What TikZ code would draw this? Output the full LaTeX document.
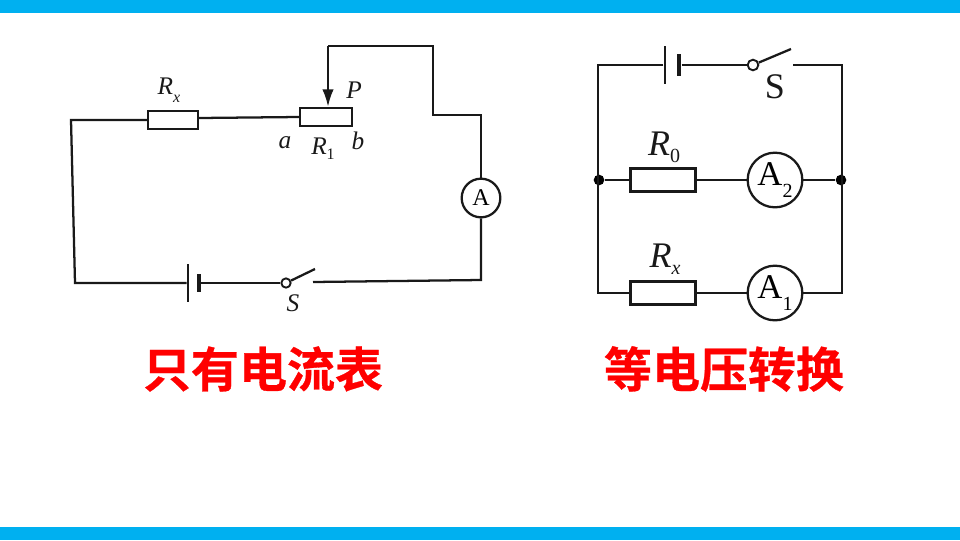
\documentclass[tikz,border=0pt]{standalone}
\usepackage{fontspec}
\usetikzlibrary{arrows.meta}
\setmainfont{Liberation Serif}
\newfontfamily\cjkbold[FakeBold=0.6]{Noto Sans CJK SC Bold}
\definecolor{barblue}{RGB}{0,176,240}
\definecolor{titlered}{RGB}{255,0,0}
\begin{document}
\begin{tikzpicture}[x=0.75pt,y=-0.75pt,line join=miter]
    \tikzstyle{wire}=[draw=black!90,line width=1.7pt]
    \tikzstyle{res}=[rectangle,draw=black!90,fill=white,line width=1.8pt,inner sep=0pt]
    \tikzstyle{meter}=[circle,draw=black!90,fill=white,line width=1.7pt,inner sep=0pt]
    \tikzstyle{plate}=[rectangle,fill=black!90,inner sep=0pt]
    \tikzstyle{pivot}=[circle,draw=black!90,fill=white,line width=1.4pt,inner sep=0pt,minimum size=7pt]
    \tikzstyle{dot}=[circle,fill=black,inner sep=0pt,minimum size=8pt]
    \tikzstyle{lbl}=[inner sep=0pt,font=\fontsize{19}{19}\selectfont\itshape,text=black!90]
    \tikzstyle{biglbl}=[inner sep=0pt,font=\fontsize{27}{27}\selectfont\itshape,text=black!90]
    \tikzstyle{title}=[inner sep=0pt,font=\cjkbold\fontsize{36}{36}\selectfont,text=titlered]
    \useasboundingbox (0,0) rectangle (960,540);
    \fill[barblue] (0,0) rectangle (960,13);
    \fill[barblue] (0,527) rectangle (960,540);

    % left circuit
    \node[res,minimum width=37.5pt,minimum height=13.5pt] (Rx) at (173,120) {};
    \node[res,minimum width=39pt,minimum height=13.5pt] (R1) at (326,117) {};
    \node[meter,minimum size=29pt,font=\fontsize{18}{18}\selectfont] (A) at (481,198) {A};
    \node[plate,minimum width=1.8pt,minimum height=29pt] (LongL) at (188,283) {};
    \node[plate,minimum width=3pt,minimum height=13pt] (ShortL) at (199,283) {};
    \node[pivot] (PivotL) at (286,283) {};
    \coordinate (BladeL) at (315,269);
    \coordinate (GapL) at (313,282);
    \foreach \name/\x/\y in {c1/71/120, c2/75/283, c3/481/280, c4/481/115, c5/433/115, c6/433/46, c7/328/46}
        \coordinate (\name) at (\x,\y);

    \draw[wire] (Rx.west) -- (c1) -- (c2) -- (LongL);
    \draw[wire] ([yshift=1.5pt]Rx.east) -- (R1.west);
    \draw[wire] (ShortL) -- (PivotL);
    \draw[wire] (PivotL) -- (BladeL);
    \draw[wire] (GapL) -- (c3) -- (A.south);
    \draw[wire] (A.north) -- (c4) -- (c5) -- (c6) -- (c7);
    \draw[wire,-{Latex[length=13pt,width=8.5pt]}] (c7) -- (R1.north -| c7);

    \node[lbl] (LRx) at (169,90) {R\raisebox{-0.3em}{\fontsize{12}{12}\selectfont x}};
    \node[lbl] (LP) at (354,90) {P};
    \node[lbl] (La) at (285,143) {a};
    \node[lbl] (Lb) at (358,141) {b};
    \node[lbl] (LR1) at (323,149) {R\raisebox{-0.2em}{\fontsize{12}{12}\selectfont\upshape 1}};
    \node[lbl] (LS) at (293,303) {S};

    % right circuit
    \node[plate,minimum width=2pt,minimum height=29pt] (LongR) at (665,65) {};
    \node[plate,minimum width=3.5pt,minimum height=16pt] (ShortR) at (679,65) {};
    \node[pivot,minimum size=8pt] (PivotR) at (753,65) {};
    \coordinate (BladeR) at (791,49);
    \coordinate (GapR) at (793,65);
    \foreach \name/\y in {0/180, x/293}
        \node[res,minimum width=49pt,minimum height=17pt] (Box\name) at (663,\y) {};
    \foreach \num/\y in {2/180, 1/293}
        \node[meter,minimum size=41pt,font=\fontsize{26}{26}\selectfont] (Am\num) at (775,\y) {A\raisebox{-0.35em}{\fontsize{15}{15}\selectfont\num}};
    \node[dot] (JL) at (599,180) {};
    \node[dot] (JR) at (841,180) {};
    \foreach \name/\x/\y in {t1/598/65, t2/842/65, b1/598/293, b2/842/293}
        \coordinate (\name) at (\x,\y);

    \draw[wire] (LongR) -- (t1) -- (b1) -- (Boxx.west);
    \draw[wire] (ShortR) -- (PivotR);
    \draw[wire] (PivotR) -- (BladeR);
    \draw[wire,line width=2.2pt] (GapR) -- (t2) -- (b2) -- (Am1.east);
    \draw[wire] (Boxx.east) -- (Am1.west);
    \draw[wire] (JL) -- (Box0.west);
    \draw[wire] (Box0.east) -- (Am2.west);
    \draw[wire] (Am2.east) -- (JR);

    \node[biglbl,font=\fontsize{27}{27}\selectfont] (LSR) at (775,87) {S};
    \node[biglbl] (LR0) at (664,147) {R\raisebox{-0.2em}{\fontsize{15}{15}\selectfont\upshape 0}};
    \node[biglbl] (LRxR) at (665,259) {R\raisebox{-0.2em}{\fontsize{15}{15}\selectfont x}};

    % captions
    \node[title] (T1) at (263,369) {只有电流表};
    \node[title] (T2) at (724,369) {等电压转换};
\end{tikzpicture}
\end{document}
